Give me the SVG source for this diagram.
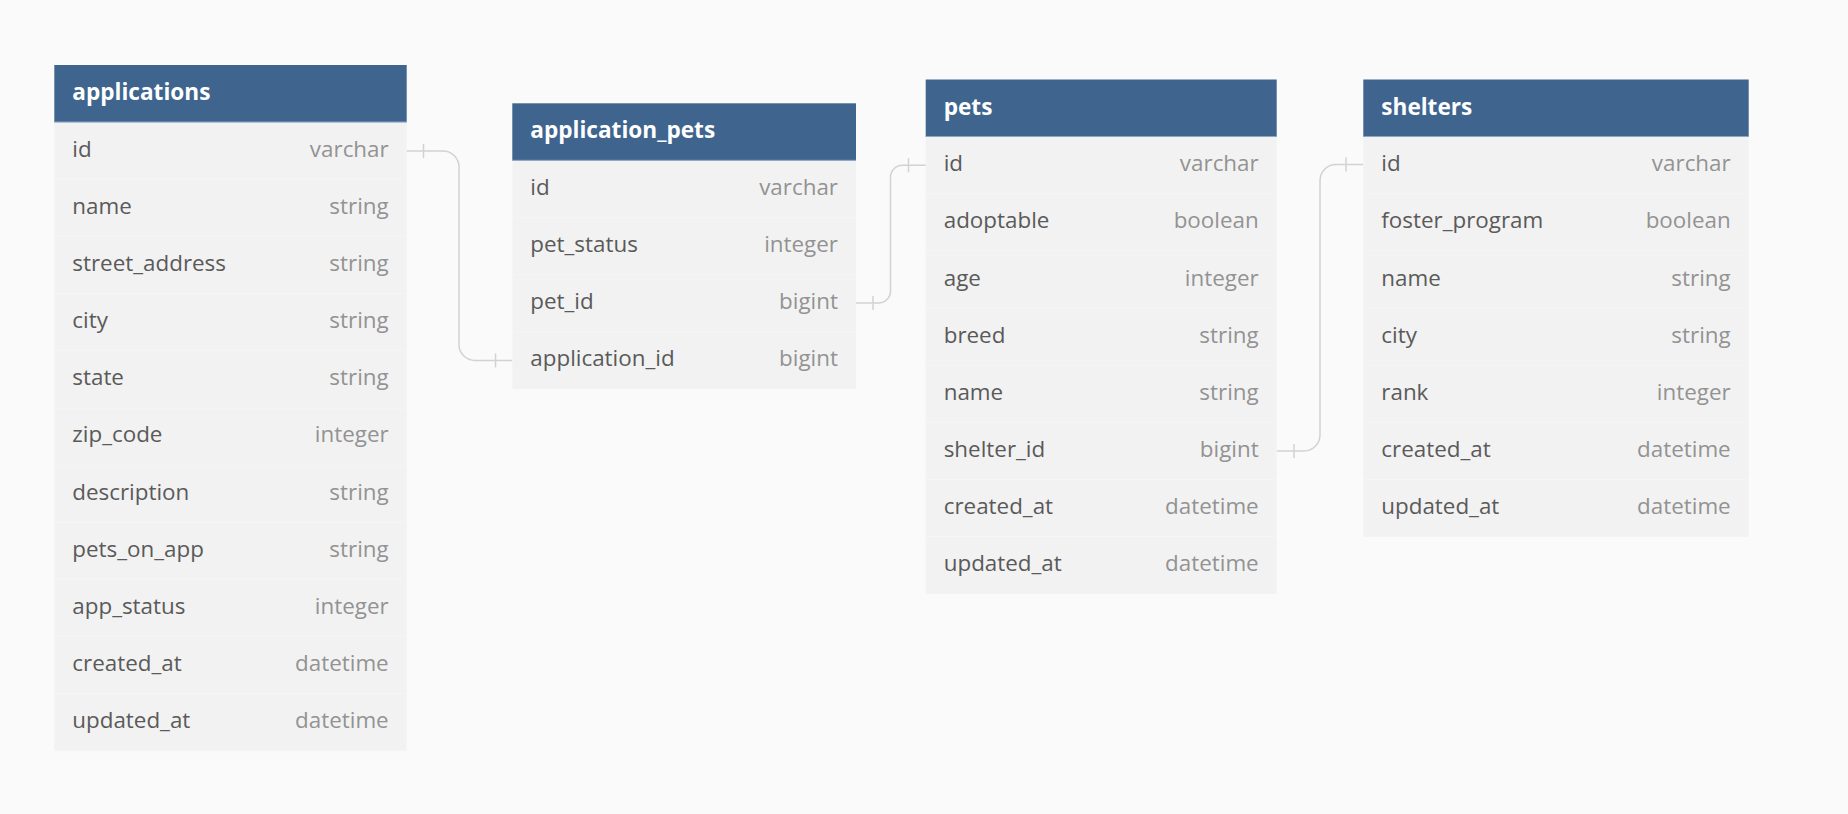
<svg xmlns="http://www.w3.org/2000/svg" width="1848" height="814" viewBox="0 0 1848 814">
<style>
.bg{fill:#fafafa}
.hdr{fill:#3f658f}
.hdrline{stroke:#8ea6c2;stroke-width:1}
.body{fill:#f2f2f2}
.sep{stroke:#f5f5f5;stroke-width:1}
.title{font-family:"Open Sans","Liberation Sans",sans-serif;font-weight:700;font-size:22.6px;fill:#ffffff}
.fn{font-family:"Open Sans","Liberation Sans",sans-serif;font-size:22.4px;fill:#5a5a5a}
.ft{font-family:"Open Sans","Liberation Sans",sans-serif;font-size:22.4px;fill:#939393;text-anchor:end}
.conn{fill:none;stroke:#d2d2d2;stroke-width:1.5}
</style>
<rect class="bg" x="0" y="0" width="1848" height="814"/>

<g id="connectors">
  <path class="conn" d="M406.7,151 H443 A16,16 0 0 1 459,167 V344.5 A16,16 0 0 0 475,360.5 H512.3"/>
  <path class="conn" d="M423.5,144 V158 M495.5,353.5 V367.5"/>
  <path class="conn" d="M856,303 H878.5 A12,12 0 0 0 890.5,291 V177.3 A12,12 0 0 1 902.5,165.3 H925.7"/>
  <path class="conn" d="M873,296 V310 M908.5,158.3 V172.3"/>
  <path class="conn" d="M1276.7,451 H1304 A16,16 0 0 0 1320,435 V180.5 A16,16 0 0 1 1336,164.5 H1363.3"/>
  <path class="conn" d="M1294,444 V458 M1346,157.5 V171.5"/>
</g>

<g id="applications" transform="translate(54.3,65)">
  <rect class="body" x="0" y="57.14" width="352.4" height="628.57"/>
  <rect class="hdr" x="0" y="0" width="352.4" height="57.14"/>
  <line class="hdrline" x1="0" y1="57" x2="352.4" y2="57"/>
  <g class="sep">
    <line x1="0" y1="114.29" x2="352.4" y2="114.29"/><line x1="0" y1="171.43" x2="352.4" y2="171.43"/>
    <line x1="0" y1="228.57" x2="352.4" y2="228.57"/><line x1="0" y1="285.71" x2="352.4" y2="285.71"/>
    <line x1="0" y1="342.86" x2="352.4" y2="342.86"/><line x1="0" y1="400" x2="352.4" y2="400"/>
    <line x1="0" y1="457.14" x2="352.4" y2="457.14"/><line x1="0" y1="514.29" x2="352.4" y2="514.29"/>
    <line x1="0" y1="571.43" x2="352.4" y2="571.43"/><line x1="0" y1="628.57" x2="352.4" y2="628.57"/>
  </g>
  <text class="title" x="18" y="35">applications</text>
  <text class="fn" x="18" y="91.7">id</text><text class="ft" x="334.4" y="91.7">varchar</text>
  <text class="fn" x="18" y="148.9">name</text><text class="ft" x="334.4" y="148.9">string</text>
  <text class="fn" x="18" y="206">street_address</text><text class="ft" x="334.4" y="206">string</text>
  <text class="fn" x="18" y="263.1">city</text><text class="ft" x="334.4" y="263.1">string</text>
  <text class="fn" x="18" y="320.3">state</text><text class="ft" x="334.4" y="320.3">string</text>
  <text class="fn" x="18" y="377.4">zip_code</text><text class="ft" x="334.4" y="377.4">integer</text>
  <text class="fn" x="18" y="434.6">description</text><text class="ft" x="334.4" y="434.6">string</text>
  <text class="fn" x="18" y="491.7">pets_on_app</text><text class="ft" x="334.4" y="491.7">string</text>
  <text class="fn" x="18" y="548.9">app_status</text><text class="ft" x="334.4" y="548.9">integer</text>
  <text class="fn" x="18" y="606">created_at</text><text class="ft" x="334.4" y="606">datetime</text>
  <text class="fn" x="18" y="663.1">updated_at</text><text class="ft" x="334.4" y="663.1">datetime</text>
</g>

<g id="application_pets" transform="translate(512.3,103.3)">
  <rect class="body" x="0" y="57.14" width="343.7" height="228.57"/>
  <rect class="hdr" x="0" y="0" width="343.7" height="57.14"/>
  <line class="hdrline" x1="0" y1="57" x2="343.7" y2="57"/>
  <g class="sep">
    <line x1="0" y1="114.29" x2="343.7" y2="114.29"/><line x1="0" y1="171.43" x2="343.7" y2="171.43"/>
    <line x1="0" y1="228.57" x2="343.7" y2="228.57"/>
  </g>
  <text class="title" x="18" y="35">application_pets</text>
  <text class="fn" x="18" y="91.7">id</text><text class="ft" x="325.7" y="91.7">varchar</text>
  <text class="fn" x="18" y="148.9">pet_status</text><text class="ft" x="325.7" y="148.9">integer</text>
  <text class="fn" x="18" y="206">pet_id</text><text class="ft" x="325.7" y="206">bigint</text>
  <text class="fn" x="18" y="263.1">application_id</text><text class="ft" x="325.7" y="263.1">bigint</text>
</g>

<g id="pets" transform="translate(925.7,79.5)">
  <rect class="body" x="0" y="57.14" width="351" height="457.14"/>
  <rect class="hdr" x="0" y="0" width="351" height="57.14"/>
  <line class="hdrline" x1="0" y1="57" x2="351" y2="57"/>
  <g class="sep">
    <line x1="0" y1="114.29" x2="351" y2="114.29"/><line x1="0" y1="171.43" x2="351" y2="171.43"/>
    <line x1="0" y1="228.57" x2="351" y2="228.57"/><line x1="0" y1="285.71" x2="351" y2="285.71"/>
    <line x1="0" y1="342.86" x2="351" y2="342.86"/><line x1="0" y1="400" x2="351" y2="400"/>
    <line x1="0" y1="457.14" x2="351" y2="457.14"/>
  </g>
  <text class="title" x="18" y="35">pets</text>
  <text class="fn" x="18" y="91.7">id</text><text class="ft" x="333" y="91.7">varchar</text>
  <text class="fn" x="18" y="148.9">adoptable</text><text class="ft" x="333" y="148.9">boolean</text>
  <text class="fn" x="18" y="206">age</text><text class="ft" x="333" y="206">integer</text>
  <text class="fn" x="18" y="263.1">breed</text><text class="ft" x="333" y="263.1">string</text>
  <text class="fn" x="18" y="320.3">name</text><text class="ft" x="333" y="320.3">string</text>
  <text class="fn" x="18" y="377.4">shelter_id</text><text class="ft" x="333" y="377.4">bigint</text>
  <text class="fn" x="18" y="434.6">created_at</text><text class="ft" x="333" y="434.6">datetime</text>
  <text class="fn" x="18" y="491.7">updated_at</text><text class="ft" x="333" y="491.7">datetime</text>
</g>

<g id="shelters" transform="translate(1363.3,79.5)">
  <rect class="body" x="0" y="57.14" width="385.4" height="400"/>
  <rect class="hdr" x="0" y="0" width="385.4" height="57.14"/>
  <line class="hdrline" x1="0" y1="57" x2="385.4" y2="57"/>
  <g class="sep">
    <line x1="0" y1="114.29" x2="385.4" y2="114.29"/><line x1="0" y1="171.43" x2="385.4" y2="171.43"/>
    <line x1="0" y1="228.57" x2="385.4" y2="228.57"/><line x1="0" y1="285.71" x2="385.4" y2="285.71"/>
    <line x1="0" y1="342.86" x2="385.4" y2="342.86"/><line x1="0" y1="400" x2="385.4" y2="400"/>
  </g>
  <text class="title" x="18" y="35">shelters</text>
  <text class="fn" x="18" y="91.7">id</text><text class="ft" x="367.4" y="91.7">varchar</text>
  <text class="fn" x="18" y="148.9">foster_program</text><text class="ft" x="367.4" y="148.9">boolean</text>
  <text class="fn" x="18" y="206">name</text><text class="ft" x="367.4" y="206">string</text>
  <text class="fn" x="18" y="263.1">city</text><text class="ft" x="367.4" y="263.1">string</text>
  <text class="fn" x="18" y="320.3">rank</text><text class="ft" x="367.4" y="320.3">integer</text>
  <text class="fn" x="18" y="377.4">created_at</text><text class="ft" x="367.4" y="377.4">datetime</text>
  <text class="fn" x="18" y="434.6">updated_at</text><text class="ft" x="367.4" y="434.6">datetime</text>
</g>
</svg>
